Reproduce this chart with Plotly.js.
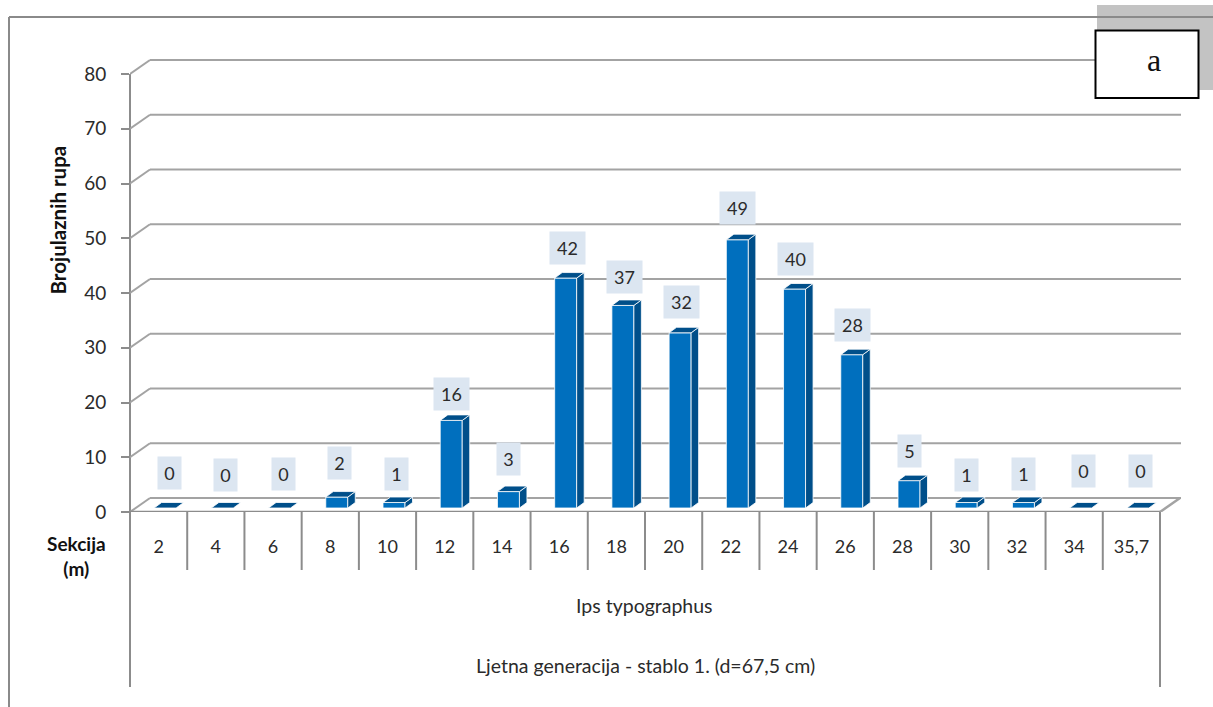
<!DOCTYPE html>
<html>
<head>
<meta charset="utf-8">
<script src="https://cdn.plot.ly/plotly-3.0.1.min.js"></script>
<style>html,body{margin:0;padding:0;background:#fff;overflow:hidden}#c{width:1213px;height:707px}</style>
</head>
<body>
<div id="c"></div>
<script>
// Data
const categories = ["2","4","6","8","10","12","14","16","18","20","22","24","26","28","30","32","34","35,7"];
const values = [0,0,0,2,1,16,3,42,37,32,49,40,28,5,1,1,0,0];
const yTicks = [0,10,20,30,40,50,60,70,80];
const subLabel = "Ips typographus";
const caption = "Ljetna generacija - stablo 1. (d=67,5 cm)";
const yTitle = "Brojulaznih rupa";
const xTitle = "Sekcija<br>(m)";

// Label placement (pixels relative to each value's category and height)
const labelDx = [11,10,10,9,8.5,7,7,8,8,7.5,7,7,7.6,7.4,7,7,9,9.6];
const labelRise = [39,37,38,38,32.5,30.6,36.6,33.6,32,35,36,34.5,34,33.7,31.5,32.5,41,41];

// Frame geometry
const L=130, R=1181, T=58, B=512, W=1213, H=707;
const pxX=(R-L-21)/categories.length;    // px per category (front width 1030 / 18)
const pxY=(B-74)/80;                     // px per value unit
const xRange=[-0.5,-0.5+(R-L)/pxX], yRange=[0,(B-T)/pxY];
const GRID="#a3a3a3", AXIS="#8c8c8c";
const FRONT="#006fbe", DARK="#004f8a";
const paperX=p=>(p-L)/(R-L), paperY=p=>(B-p)/(B-T);
const dxWall=20/pxX, dyWall=14/pxY;       // wall depth
const barShift=6.5/pxX, barBase=4/pxY, barW=22/pxX; // bar placed inside depth
const barDx=7.5/pxX, barDy=5.5/pxY;       // bar 3D depth

const shapes=[];
const line=(x0,y0,x1,y1,color,w,layer,xref,yref)=>shapes.push({type:'line',x0,y0,x1,y1,xref:xref||'x',yref:yref||'y',layer:layer||'below',line:{color,width:w}});
const rect=(px0,py0,px1,py1,fill,lc,lw,layer)=>shapes.push({type:'rect',xref:'paper',yref:'paper',x0:paperX(px0),x1:paperX(px1),y0:paperY(py0),y1:paperY(py1),fillcolor:fill,line:{color:lc,width:lw},layer});

// page frame + hatched backing
rect(1097,5,1213,90,'#c3c3c3','rgba(0,0,0,0)',0,'below');
line(paperX(9),paperY(17),paperX(W),paperY(17),'#8a8a8a',2,'below','paper','paper');
line(paperX(9),paperY(17),paperX(9),paperY(H),'#8a8a8a',2,'below','paper','paper');

// back wall + side gridlines
yTicks.forEach(v=>{
  line(-0.5+dxWall,v+dyWall,xRange[1],v+dyWall,GRID,2);
  line(-0.5,v,-0.5+dxWall,v+dyWall,GRID,2);
});
// floor
const xEnd=categories.length-0.5;
line(-0.5,0,xEnd,0,AXIS,2.5,'below');
line(xEnd,0,xEnd+dxWall,dyWall,GRID,2.5);
// left and right axis rules, category separators
line(paperX(L),paperY(74),paperX(L),paperY(687),AXIS,2,'below','paper','paper');
line(xEnd,paperY(B),xEnd,paperY(687),AXIS,2,'below','x','paper');
for(let i=0;i<categories.length-1;i++) line(i+0.5,paperY(B),i+0.5,paperY(570),AXIS,2,'below','x','paper');

// label box (a)
rect(1095.5,30.5,1198.5,98,'#ffffff','#000000',2,'above');

// 3D faces derived from values
const topX=[],topY=[],sideX=[],sideY=[];
values.forEach((v,i)=>{
  const x0=i+barShift-barW/2,x1=i+barShift+barW/2,b=barBase,t=barBase+v;
  topX.push(x0,x1,x1+barDx,x0+barDx,x0,null);
  topY.push(t,t,t+barDy,t+barDy,t,null);
  if(v>0){
    sideX.push(x1,x1+barDx,x1+barDx,x1,x1,null);
    sideY.push(b,b+barDy,t+barDy,t,b,null);
  }
});

const cx=categories.map((_,i)=>i);
const traces=[
  {type:'scatter',x:sideX,y:sideY,mode:'lines',fill:'toself',fillcolor:DARK,line:{color:'#ffffff',width:0.8},hoverinfo:'skip',showlegend:false},
  {type:'scatter',x:topX,y:topY,mode:'lines',fill:'toself',fillcolor:DARK,line:{color:'#ffffff',width:0.8},hoverinfo:'skip',showlegend:false},
  {type:'bar',x:cx.map(i=>i+barShift),y:values,base:barBase,width:barW,marker:{color:FRONT,line:{color:'#ffffff',width:0.8}},showlegend:false}
];

const FONT='Lato, "Open Sans", sans-serif', TXT='#2b2b2b';
const annotations=values.map((v,i)=>({
  x:i,y:v,xref:'x',yref:'y',text:String(v),showarrow:false,
  xshift:labelDx[i],yshift:labelRise[i],xanchor:'center',yanchor:'middle',
  width:String(v).length>1?35:23,height:32,align:'center',valign:'middle',
  bgcolor:'#dce6f1',borderpad:0,font:{family:FONT,size:18,color:TXT}
}));
const note=(px,py,text,opt)=>annotations.push(Object.assign({xref:'paper',yref:'paper',x:paperX(px),y:paperY(py),text,showarrow:false,xanchor:'center',yanchor:'middle',font:{family:FONT,size:19.5,color:TXT}},opt||{}));
note(76,556,xTitle,{font:{family:FONT,size:19,color:'#111',weight:700}});
note(58,220.5,yTitle,{textangle:-90,font:{family:FONT,size:20.5,color:'#111',weight:700}});
note(644,605,subLabel);
note(645,665,caption);
note(1153.5,60,'a',{font:{family:'"Liberation Serif", serif',size:32,color:'#111'}});

Plotly.newPlot('c',traces,{
  width:W,height:H,autosize:false,
  margin:{l:L,r:W-R,t:T,b:H-B,pad:0},
  paper_bgcolor:'#ffffff',plot_bgcolor:'rgba(0,0,0,0)',
  showlegend:false,bargap:0,
  xaxis:{type:'linear',range:xRange,tickmode:'array',tickvals:cx,ticktext:categories,ticks:'',showgrid:false,zeroline:false,showline:false,
    tickfont:{family:FONT,size:18,color:TXT},ticklabelstandoff:22,tickangle:0,fixedrange:true},
  yaxis:{range:yRange,tickmode:'array',tickvals:yTicks,ticks:'outside',ticklen:8,tickwidth:2,tickcolor:AXIS,showgrid:false,zeroline:false,showline:false,
    tickfont:{family:FONT,size:19,color:TXT},ticklabelstandoff:11,fixedrange:true},
  shapes,annotations
},{staticPlot:true,displayModeBar:false});
</script>
</body>
</html>
